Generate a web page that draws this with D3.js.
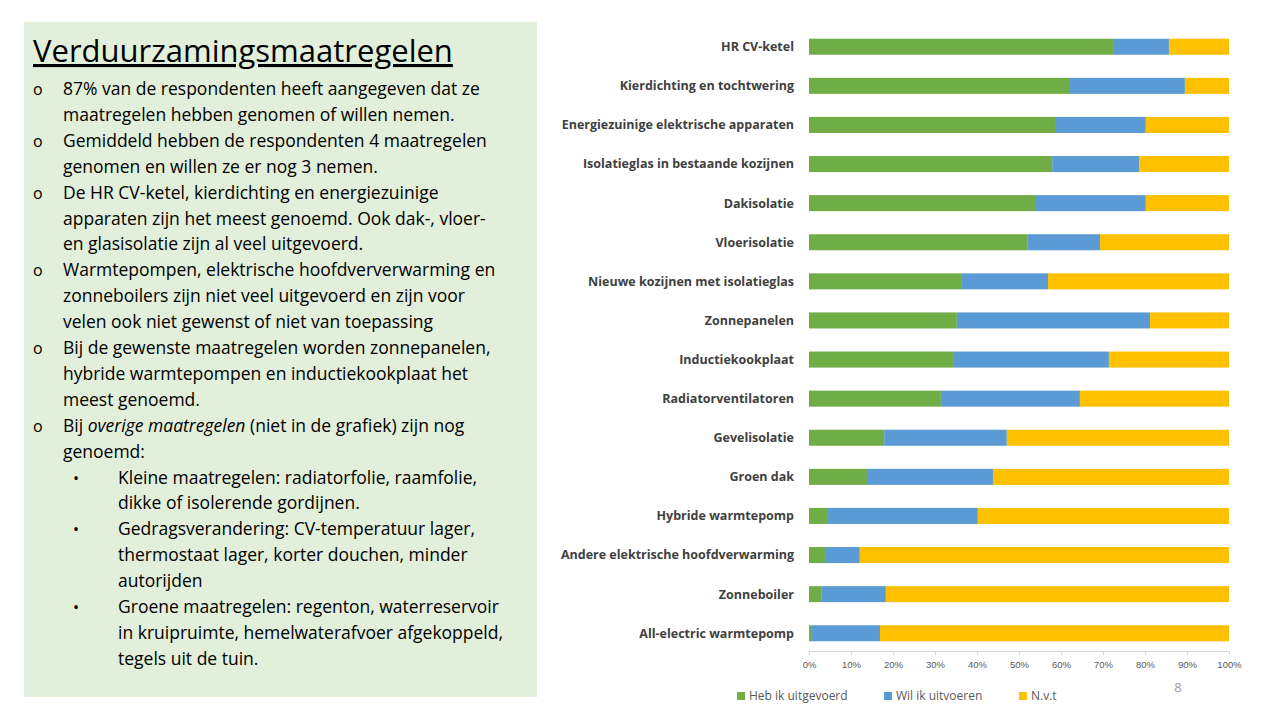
<!DOCTYPE html>
<html><head><meta charset="utf-8">
<script src="https://cdn.jsdelivr.net/npm/d3@7"></script>
<style>body{margin:0;background:#fff;font-family:"Open Sans",sans-serif}</style>
</head><body><svg id="c" width="1280" height="720"></svg>
<script>
const categories = ['HR CV-ketel','Kierdichting en tochtwering','Energiezuinige elektrische apparaten','Isolatieglas in bestaande kozijnen','Dakisolatie','Vloerisolatie','Nieuwe kozijnen met isolatieglas','Zonnepanelen','Inductiekookplaat','Radiatorventilatoren','Gevelisolatie','Groen dak','Hybride warmtepomp','Andere elektrische hoofdverwarming','Zonneboiler','All-electric warmtepomp'];
const uitgevoerd = [72.4,61.9,58.8,57.9,53.8,52.1,36.4,35.2,34.3,31.4,17.9,13.8,4.3,3.8,2.9,0.5];
const uitvoeren = [13.3,27.6,21.4,20.7,26.4,17.2,20.5,46.0,37.1,33.1,29.2,30.0,35.9,8.3,15.4,16.4];
const seriesNames = ['Heb ik uitgevoerd','Wil ik uitvoeren','N.v.t'];
const colors = ['#70AD47','#5B9BD5','#FFC000'];
const ticks = [0,10,20,30,40,50,60,70,80,90,100];

const svg = d3.select('#c');
// text panel
svg.append('rect').attr('x',24).attr('y',22).attr('width',513).attr('height',675).attr('fill','#E2EFDA');
svg.append('text').attr('x',33).attr('y',62).attr('font-size',31).attr('fill','#000')
  .attr('text-decoration','underline').text('Verduurzamingsmaatregelen');
const lines = [
  [0,'87% van de respondenten heeft aangegeven dat ze'],[1,'maatregelen hebben genomen of willen nemen.'],
  [0,'Gemiddeld hebben de respondenten  4 maatregelen'],[1,'genomen en willen ze er nog 3 nemen.'],
  [0,'De HR CV-ketel,  kierdichting en energiezuinige'],[1,'apparaten zijn het meest genoemd. Ook dak-, vloer-'],[1,'en glasisolatie zijn al veel uitgevoerd.'],
  [0,'Warmtepompen, elektrische hoofdververwarming  en'],[1,'zonneboilers zijn niet veel uitgevoerd en zijn voor'],[1,'velen ook niet gewenst of niet van toepassing'],
  [0,'Bij de gewenste maatregelen worden zonnepanelen,'],[1,'hybride warmtepompen en inductiekookplaat het'],[1,'meest genoemd.'],
  [0,'OVERIGE'],[1,'genoemd:'],
  [2,'Kleine maatregelen: radiatorfolie, raamfolie,'],[3,'dikke of isolerende gordijnen.'],
  [2,'Gedragsverandering:  CV-temperatuur lager,'],[3,'thermostaat lager, korter douchen, minder'],[3,'autorijden'],
  [2,'Groene maatregelen: regenton, waterreservoir'],[3,'in kruipruimte, hemelwaterafvoer  afgekoppeld,'],[3,'tegels uit de tuin.']
];
lines.forEach((l,i)=>{
  const y = 95 + i*25.9;
  const x = l[0]>=2 ? 118 : 63;
  if(l[0]===0) svg.append('text').attr('x',33).attr('y',y).attr('font-size',16).text('o');
  if(l[0]===2) svg.append('text').attr('x',73).attr('y',y).attr('font-size',16).text('•');
  const t = svg.append('text').attr('x',x).attr('y',y).attr('font-size',17.5).attr('fill','#000');
  if(l[1]==='OVERIGE'){
    t.append('tspan').text('Bij ');
    t.append('tspan').attr('font-style','italic').text('overige maatregelen');
    t.append('tspan').text(' (niet in de grafiek) zijn nog');
  } else t.text(l[1]);
});

// chart
const x = d3.scaleLinear().domain([0,100]).range([809,1229]);
const y = d3.scaleBand().domain(categories).range([27,653]).paddingInner(0.59).paddingOuter(0.3);
const stackData = categories.map((c,i)=>({cat:c,a:uitgevoerd[i],b:uitvoeren[i],c:100-uitgevoerd[i]-uitvoeren[i]}));
const stacked = d3.stack().keys(['a','b','c'])(stackData);
svg.append('g').selectAll('g').data(stacked).join('g').attr('fill',(d,i)=>colors[i])
  .selectAll('rect').data(d=>d).join('rect')
  .attr('x',d=>x(d[0])).attr('width',d=>x(d[1])-x(d[0]))
  .attr('y',d=>y(d.data.cat)).attr('height',y.bandwidth());
svg.append('g').selectAll('text').data(categories).join('text')
  .attr('x',794).attr('y',d=>y(d)+y.bandwidth()/2).attr('dy','0.35em').attr('text-anchor','end')
  .attr('font-size',12.5).attr('font-weight','bold').attr('fill','#404040').text(d=>d);
const ax = svg.append('g').attr('transform','translate(0,651)')
  .call(d3.axisBottom(x).tickValues(ticks).tickFormat(d=>d+'%').tickSize(4));
ax.select('.domain').attr('stroke','#d9d9d9');
ax.selectAll('line').attr('stroke','#d9d9d9');
ax.selectAll('text').attr('font-size',9.5).attr('fill','#595959').attr('dy','1.1em');
const leg = svg.append('g').selectAll('g').data(seriesNames).join('g')
  .attr('transform',(d,i)=>`translate(${[737,884,1019][i]},692)`);
leg.append('rect').attr('width',8).attr('height',8).attr('fill',(d,i)=>colors[i]);
leg.append('text').attr('x',12).attr('y',8).attr('font-size',12).attr('fill','#595959').text(d=>d);
svg.append('text').attr('x',1178).attr('y',692).attr('text-anchor','middle').attr('font-size',13).attr('fill','#999').text('8');
</script></body></html>
